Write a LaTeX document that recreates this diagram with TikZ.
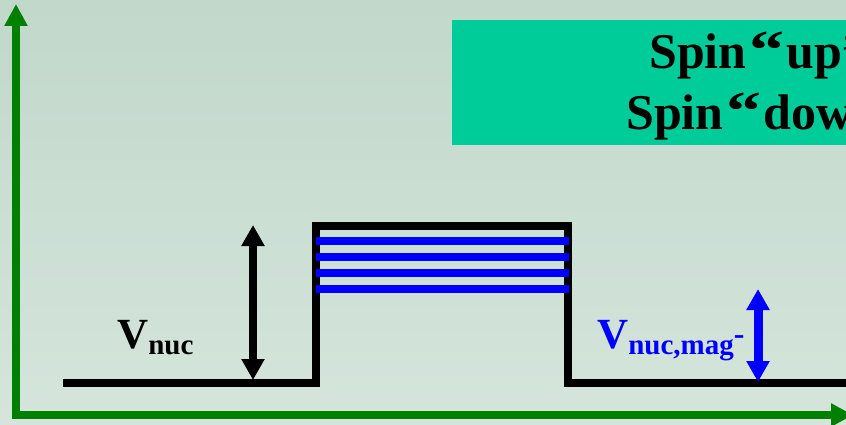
\documentclass[tikz,border=0pt]{standalone}
\usepackage{fontspec}
\usepackage{graphicx}
\setmainfont{Liberation Serif}
\usetikzlibrary{arrows.meta}
\definecolor{bgtop}{HTML}{C1D8CA}
\definecolor{bgbot}{HTML}{D5E5DB}
\definecolor{axisgreen}{HTML}{008000}
\definecolor{boxgreen}{HTML}{00CC99}
% wide opening quote as set in the legend
\newcommand{\spinquote}{\kern3pt\scalebox{1.4}[1.1]{“}\kern2pt}
\begin{document}
\begin{tikzpicture}[x=1pt,y=-1pt,
  axis/.style={draw=axisgreen,line width=8.5pt,-{Triangle[width=22pt,length=22pt]}},
  well/.style={draw=black,line width=8pt,line join=miter},
  level/.style={draw=blue,line width=8pt},
  dbl/.style={line width=7.5pt,{Triangle[width=22pt,length=21pt]}-{Triangle[width=22pt,length=21pt]}},
  lbl/.style={inner sep=0pt,anchor=base west,font=\bfseries}]
  % background with soft vertical shading
  \shade[top color=bgtop,bottom color=bgbot] (0,0) rectangle (846,425);
  \useasboundingbox (0,0) rectangle (846,425);
  \clip (0,0) rectangle (846,425);

  % legend panel
  \fill[boxgreen] (452,20) rectangle (860,145);
  \node[lbl] (up) at (649,69) {\fontsize{50}{60}\selectfont Spin\spinquote up”};
  \node[lbl] (down) at (626,130) {\fontsize{50}{60}\selectfont Spin\spinquote down”};

  % axes
  \coordinate (o) at (16,415);
  \coordinate (ytip) at (16,4);
  \coordinate (xtip) at (853,415);
  \draw[axis] (o) -- (ytip);
  \draw[axis] ([xshift=-4.25pt]o) -- (xtip);

  % potential well
  \coordinate (w0) at (63,383);
  \coordinate (w1) at (315.5,383);
  \coordinate (w2) at (315.5,225.5);
  \coordinate (w3) at (568,225.5);
  \coordinate (w4) at (568,383);
  \coordinate (w5) at (860,383);
  \draw[well] (w0) -- (w1) -- (w2) -- (w3) -- (w4) -- (w5);

  % spin levels inside the well
  \foreach \yy in {241,257,273,288.5}
    \draw[level] (316,\yy) -- (569,\yy);

  % well depth arrows
  \coordinate (a1) at (253,225);
  \coordinate (a2) at (253,380);
  \draw[dbl,black] (a1) -- (a2);
  \coordinate (b1) at (758,289);
  \coordinate (b2) at (758,382);
  \draw[dbl,blue,line width=9pt] (b1) -- (b2);

  % labels
  \node[lbl] (vnuc) at (117,348) {\fontsize{43}{43}\selectfont V\raisebox{-6.5pt}{\fontsize{29}{29}\selectfont nuc}};
  \node[lbl,text=blue] (vmag) at (597,348) {\fontsize{43}{43}\selectfont V\raisebox{-6.5pt}{\fontsize{29}{29}\selectfont nuc,mag}\raisebox{4pt}{\fontsize{32}{32}\selectfont -}};
\end{tikzpicture}
\end{document}
